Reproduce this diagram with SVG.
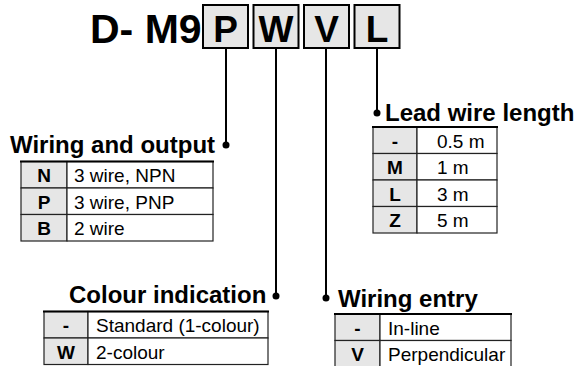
<svg xmlns="http://www.w3.org/2000/svg" width="574" height="366" viewBox="0 0 574 366">
<style>
.hd{font-family:"Liberation Sans",Arial,sans-serif;font-weight:bold;fill:#000}
.big{font-size:41px}
.box{fill:#e6e6e6;stroke:#000;stroke-width:2}
.bl{font-size:37px;text-anchor:middle}
.ttl{font-family:"Liberation Sans",Arial,sans-serif;font-weight:bold;font-size:24px;fill:#000}
.code{font-family:"Liberation Sans",Arial,sans-serif;font-weight:bold;font-size:19px;text-anchor:middle;fill:#000}
.val{font-family:"Liberation Sans",Arial,sans-serif;font-size:19px;fill:#000}
.cell{fill:#fff;stroke:#222;stroke-width:1.2}
.gcell{fill:#e6e6e6;stroke:#222;stroke-width:1.2}
.top{stroke:#000;stroke-width:2.2}
.ln{stroke:#000;stroke-width:2;fill:none}
.dot{fill:#000}
</style>
<g id="header">
<text class="hd big" x="90" y="43">D- M9</text>
<rect class="box" x="203" y="5" width="45" height="43"/>
<text class="hd bl" x="225.5" y="42">P</text>
<rect class="box" x="253.5" y="5" width="45" height="43"/>
<text class="hd bl" x="276" y="42">W</text>
<rect class="box" x="304" y="5" width="45" height="43"/>
<text class="hd bl" x="326.5" y="42">V</text>
<rect class="box" x="354.5" y="5" width="45" height="43"/>
<text class="hd bl" x="377" y="42">L</text>
</g>
<g id="connectors">
<line class="ln" x1="226" y1="48" x2="226" y2="145"/>
<circle class="dot" cx="226" cy="145" r="3.5"/>
<line class="ln" x1="276" y1="48" x2="276" y2="296"/>
<circle class="dot" cx="276" cy="296" r="3.5"/>
<line class="ln" x1="326" y1="48" x2="326" y2="298"/>
<circle class="dot" cx="326" cy="298" r="3.5"/>
<line class="ln" x1="377" y1="48" x2="377" y2="113"/>
<circle class="dot" cx="377" cy="113" r="3.5"/>
</g>
<g id="wiring-output">
<text class="ttl" x="10" y="153">Wiring and output</text>
<rect class="gcell" x="21" y="161.5" width="46" height="26.5"/>
<rect class="cell" x="67" y="161.5" width="146" height="26.5"/>
<rect class="gcell" x="21" y="188" width="46" height="26.5"/>
<rect class="cell" x="67" y="188" width="146" height="26.5"/>
<rect class="gcell" x="21" y="214.5" width="46" height="26.5"/>
<rect class="cell" x="67" y="214.5" width="146" height="26.5"/>
<line class="top" x1="20" y1="161.5" x2="214" y2="161.5"/>
<text class="code" x="44" y="182">N</text>
<text class="val" x="74" y="182">3 wire, NPN</text>
<text class="code" x="44" y="208.5">P</text>
<text class="val" x="74" y="208.5">3 wire, PNP</text>
<text class="code" x="44" y="235">B</text>
<text class="val" x="74" y="235">2 wire</text>
</g>
<g id="lead-wire">
<text class="ttl" x="385" y="121">Lead wire length</text>
<rect class="gcell" x="373" y="127" width="44" height="26.5"/>
<rect class="cell" x="417" y="127" width="80" height="26.5"/>
<rect class="gcell" x="373" y="153.5" width="44" height="26.5"/>
<rect class="cell" x="417" y="153.5" width="80" height="26.5"/>
<rect class="gcell" x="373" y="180" width="44" height="26.5"/>
<rect class="cell" x="417" y="180" width="80" height="26.5"/>
<rect class="gcell" x="373" y="206.5" width="44" height="26.5"/>
<rect class="cell" x="417" y="206.5" width="80" height="26.5"/>
<line class="top" x1="372" y1="127" x2="498" y2="127"/>
<text class="code" x="395" y="147.5">-</text>
<text class="val" x="437" y="147.5">0.5 m</text>
<text class="code" x="395" y="174">M</text>
<text class="val" x="437" y="174">1 m</text>
<text class="code" x="395" y="200.5">L</text>
<text class="val" x="437" y="200.5">3 m</text>
<text class="code" x="395" y="227">Z</text>
<text class="val" x="437" y="227">5 m</text>
</g>
<g id="colour">
<text class="ttl" x="69" y="303">Colour indication</text>
<rect class="gcell" x="44" y="311.5" width="44" height="26.5"/>
<rect class="cell" x="88" y="311.5" width="180" height="26.5"/>
<rect class="gcell" x="44" y="338" width="44" height="26.5"/>
<rect class="cell" x="88" y="338" width="180" height="26.5"/>
<line class="top" x1="43" y1="311.5" x2="269" y2="311.5"/>
<text class="code" x="66" y="332">-</text>
<text class="val" x="96" y="332">Standard (1-colour)</text>
<text class="code" x="66" y="358.5">W</text>
<text class="val" x="96" y="358.5">2-colour</text>
</g>
<g id="wiring-entry">
<text class="ttl" x="338" y="307">Wiring entry</text>
<rect class="gcell" x="335" y="314" width="45" height="26.5"/>
<rect class="cell" x="380" y="314" width="131" height="26.5"/>
<rect class="gcell" x="335" y="340.5" width="45" height="26.5"/>
<rect class="cell" x="380" y="340.5" width="131" height="26.5"/>
<line class="top" x1="334" y1="314" x2="512" y2="314"/>
<text class="code" x="357.5" y="334.5">-</text>
<text class="val" x="388" y="334.5">In-line</text>
<text class="code" x="357.5" y="361">V</text>
<text class="val" x="388" y="361">Perpendicular</text>
</g>
</svg>
